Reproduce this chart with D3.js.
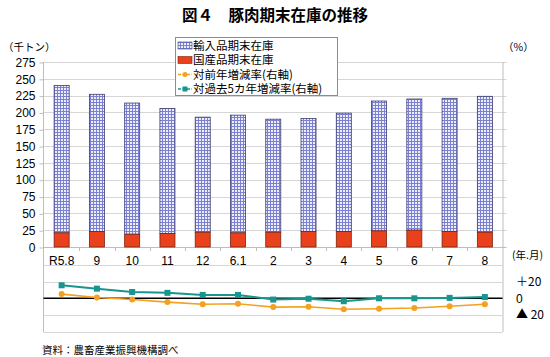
<!DOCTYPE html>
<html><head><meta charset="utf-8">
<script src="https://cdn.jsdelivr.net/npm/d3@7"></script>
<style>
body{margin:0;background:#fff;}
svg{display:block;}
text{font-family:"Liberation Sans",Arial,"Noto Sans CJK JP",sans-serif;fill:#000;}
.jp{font-family:"Noto Sans CJK JP",sans-serif;}
</style></head><body>
<script>
const categories = ["R5.8","9","10","11","12","6.1","2","3","4","5","6","7","8"];
const imported   = [219,204,195,186,171,175,168,168,176,193,195,198,202];
const domestic   = [21,23,19,20,22,21,22,23,23,24,25,23,22];
const yoy        = [5,1,-1.5,-4.5,-7,-6.5,-10.5,-10,-13,-12.5,-11.5,-9.5,-7];
const vs5yr      = [15.5,11.5,7.5,6.5,4,4,-1.5,-0.5,-3.5,0,0,0.5,1.5];
const leftTicks  = [0,25,50,75,100,125,150,175,200,225,250,275];
const rightTicks = [-40,-20,0,20,40];
const rightTickLabels = [{v:20,t:"＋20"},{v:0,t:"0"},{v:-20,t:"▲ 20"}];
const legendItems = ["輸入品期末在庫","国産品期末在庫","対前年増減率(右軸)","対過去5カ年増減率(右軸)"];

const W=550,H=357;
const svg=d3.select("body").append("svg").attr("width",W).attr("height",H);
const defs=svg.append("defs");
const pat=defs.append("pattern").attr("id","grid").attr("width",3).attr("height",3).attr("patternUnits","userSpaceOnUse");
pat.append("rect").attr("width",3).attr("height",3).attr("fill","#eceefb");
pat.append("path").attr("d","M0,0.5H3M0.5,0V3").attr("stroke","#7c80d2").attr("stroke-width",1);

const L=43.5,R=502.5;
const x=d3.scaleBand().domain(categories).range([44,502.5]).paddingInner(0.574).paddingOuter(0.287);
const y=d3.scaleLinear().domain([0,275]).range([247,62]);
const y2=d3.scaleLinear().domain([-40,40]).range([331.9,264.7]);
const grid="#d6d6d6", axc="#bdbdbd", teal="#17958f", orange="#f3a11e";

// title
svg.append("text").attr("class","jp").attr("x",275).attr("y",21).attr("text-anchor","middle")
  .style("font-size","15.5px").style("font-weight","bold").text("図４　豚肉期末在庫の推移");
svg.append("text").attr("class","jp").attr("x",3).attr("y",51).style("font-size","10.5px").text("（千トン）");
svg.append("text").attr("class","jp").attr("x",503).attr("y",51).style("font-size","10.5px").text("（%）");

// gridlines top
svg.append("g").selectAll("line").data(leftTicks).join("line")
  .attr("x1",L).attr("x2",R+4).attr("y1",d=>Math.round(y(d))+0.5).attr("y2",d=>Math.round(y(d))+0.5)
  .attr("stroke",d=>d===0?axc:grid);
// left axis
const ga=svg.append("g").attr("transform",`translate(${L},0)`)
  .call(d3.axisLeft(y).tickValues(leftTicks).tickSize(4).tickPadding(4).tickFormat(d3.format("d")));
ga.select(".domain").remove();
ga.selectAll("line").attr("stroke",axc).attr("transform","translate(0,0.5)");
ga.selectAll("text").style("font-size","12px").attr("dy","0.35em");
// vertical borders
svg.append("line").attr("x1",L).attr("x2",L).attr("y1",62).attr("y2",332).attr("stroke",axc);
svg.append("line").attr("x1",R+0.5).attr("x2",R+0.5).attr("y1",62).attr("y2",332).attr("stroke",axc);

// bars
const gb=svg.append("g");
categories.forEach((c,i)=>{
  gb.append("rect").attr("x",x(c)).attr("width",x.bandwidth())
    .attr("y",y(domestic[i]+imported[i])).attr("height",y(domestic[i])-y(domestic[i]+imported[i]))
    .attr("fill","url(#grid)").attr("stroke","#3c3c6e").attr("stroke-width",0.8);
  gb.append("rect").attr("x",x(c)).attr("width",x.bandwidth())
    .attr("y",y(domestic[i])).attr("height",y(0)-y(domestic[i]))
    .attr("fill","#e8411b").attr("stroke","#7a2410").attr("stroke-width",0.8);
});

// category axis
const gx=svg.append("g").attr("transform","translate(0,247)")
  .call(d3.axisBottom(x).tickSize(0).tickPadding(9));
gx.select(".domain").remove();
gx.selectAll("text").style("font-size","12px");
const bounds=categories.map(c=>x(c)-x.step()*x.paddingInner()/2).slice(1);
svg.append("g").selectAll("line").data(bounds).join("line")
  .attr("x1",d=>Math.round(d)+0.5).attr("x2",d=>Math.round(d)+0.5).attr("y1",247).attr("y2",251).attr("stroke",axc);
svg.append("text").attr("class","jp").attr("x",512).attr("y",259).style("font-size","10.5px").text("(年.月)");

// lower panel
svg.append("g").selectAll("line").data(rightTicks.filter(d=>d!==0)).join("line")
  .attr("x1",L).attr("x2",R).attr("y1",d=>Math.round(y2(d))+0.5).attr("y2",d=>Math.round(y2(d))+0.5).attr("stroke",grid);
svg.append("line").attr("x1",L).attr("x2",R).attr("y1",y2(0)).attr("y2",y2(0)).attr("stroke","#000").attr("stroke-width",1.5);
svg.append("g").selectAll("text").data(rightTickLabels).join("text")
  .attr("x",516).attr("y",d=>y2(d.v)).attr("dy","0.35em").style("font-size","12px")
  .attr("class",d=>d.v!==0?"jp":null).text(d=>d.t);

const cx=c=>x(c)+x.bandwidth()/2;
const line5=d3.line().x((d,i)=>cx(categories[i])).y(d=>y2(d));
svg.append("path").datum(vs5yr).attr("d",line5).attr("fill","none").attr("stroke",teal).attr("stroke-width",2);
svg.append("g").selectAll("rect").data(vs5yr).join("rect")
  .attr("x",(d,i)=>cx(categories[i])-3).attr("y",d=>y2(d)-3).attr("width",6).attr("height",6).attr("fill",teal);
svg.append("path").datum(yoy).attr("d",line5).attr("fill","none").attr("stroke",orange).attr("stroke-width",1.6);
svg.append("g").selectAll("circle").data(yoy).join("circle")
  .attr("cx",(d,i)=>cx(categories[i])).attr("cy",d=>y2(d)).attr("r",3).attr("fill",orange);

// legend
const lg=svg.append("g");
lg.append("rect").attr("x",175.5).attr("y",37.5).attr("width",162).attr("height",58).attr("fill","#fff").attr("stroke","#8c8c8c");
legendItems.forEach((t,i)=>{
  const cy=45.5+i*14.5;
  if(i===0) lg.append("rect").attr("x",178).attr("y",cy-3.5).attr("width",14).attr("height",7).attr("fill","url(#grid)").attr("stroke","#3c3c6e").attr("stroke-width",0.6);
  else if(i===1) lg.append("rect").attr("x",178).attr("y",cy-3.5).attr("width",14).attr("height",7).attr("fill","#e8411b").attr("stroke","#7a2410").attr("stroke-width",0.6);
  else {
    const col=i===2?orange:teal;
    lg.append("line").attr("x1",178).attr("x2",192).attr("y1",cy).attr("y2",cy).attr("stroke",col).attr("stroke-width",1.5).attr("stroke-dasharray","3,1.5");
    if(i===2) lg.append("circle").attr("cx",185).attr("cy",cy).attr("r",2.5).attr("fill",col);
    else lg.append("rect").attr("x",182.5).attr("y",cy-2.5).attr("width",5).attr("height",5).attr("fill",col);
  }
  lg.append("text").attr("class","jp").attr("x",193).attr("y",cy).attr("dy","0.36em").style("font-size","11.5px").text(t);
});

// source
svg.append("text").attr("class","jp").attr("x",42).attr("y",354).style("font-size","10.5px").text("資料：農畜産業振興機構調べ");
</script>
</body></html>
